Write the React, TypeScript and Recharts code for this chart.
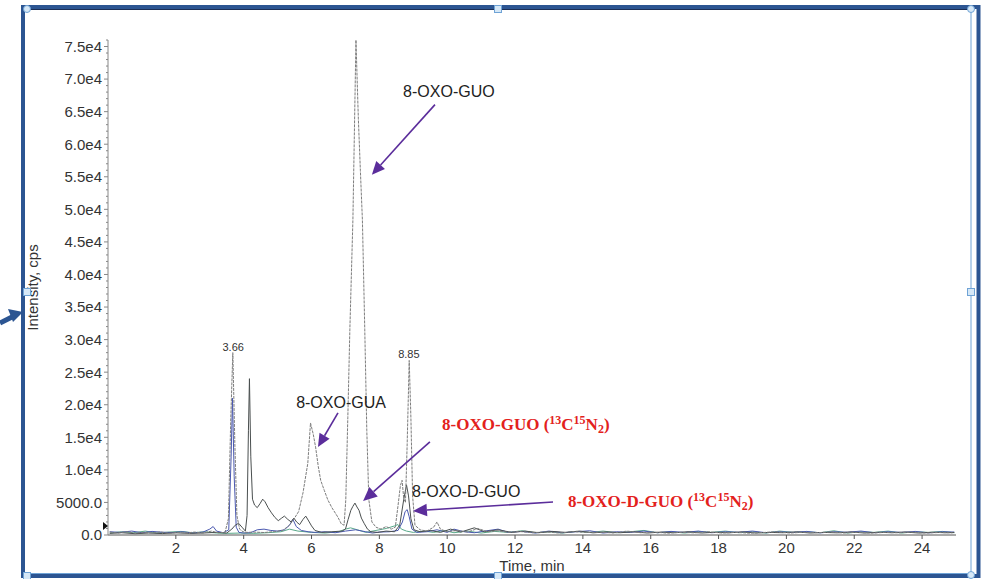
import React from "react";
import { LineChart, Line, XAxis, YAxis, ReferenceLine, ReferenceDot } from "recharts";

// chromatogram traces, [time (min), intensity (cps)]
const grayTrace: [number, number][] = [
  [0.05, 450], [0.3, 300], [0.55, 520], [0.8, 280], [1.05, 410], [1.3, 330], [1.55, 480], [1.8, 260],
  [2.05, 390], [2.3, 310], [2.55, 450], [2.8, 300], [3.05, 600], [3.25, 350], [3.45, 400], [3.55, 2500],
  [3.62, 18000], [3.68, 28000], [3.74, 14000], [3.8, 3000], [3.88, 900], [3.98, 500], [4.1, 400], [4.3, 450],
  [4.6, 380], [4.9, 520], [5.15, 700], [5.35, 1500], [5.5, 2600], [5.62, 3600], [5.75, 6500], [5.89, 11000],
  [5.97, 17200], [6.05, 15500], [6.12, 13500], [6.2, 10500], [6.27, 8400], [6.38, 6800], [6.48, 5400],
  [6.6, 4200], [6.77, 2800], [6.88, 1700], [6.96, 1500], [7.01, 5400], [7.07, 18000], [7.13, 31500],
  [7.22, 48400], [7.31, 76000], [7.38, 64000], [7.44, 56000], [7.5, 48400], [7.57, 31500], [7.63, 16000],
  [7.69, 5400], [7.78, 2000], [7.9, 1200], [8.05, 900], [8.2, 1300], [8.35, 900], [8.47, 1200], [8.55, 4500],
  [8.62, 7600], [8.67, 8400], [8.72, 5500], [8.77, 5000], [8.82, 14000], [8.88, 26800], [8.93, 18000],
  [8.98, 6000], [9.05, 1500], [9.2, 800], [9.4, 600], [9.6, 1200], [9.7, 2000], [9.8, 900], [10.0, 500],
  [10.3, 700], [10.6, 450], [10.9, 1000], [11.2, 500], [11.5, 650], [11.8, 400], [12.1, 550], [12.5, 350],
  [12.9, 480], [13.3, 300], [13.7, 520], [14.1, 380], [14.5, 450], [14.9, 300], [15.3, 600], [15.7, 350],
  [16.1, 450], [16.5, 280], [16.9, 400], [17.3, 330], [17.7, 500], [18.1, 300], [18.5, 420], [18.9, 280],
  [19.3, 380], [19.7, 500], [20.1, 300], [20.5, 420], [20.9, 350], [21.3, 480], [21.7, 300], [22.1, 430],
  [22.5, 280], [22.9, 400], [23.3, 330], [23.7, 450], [24.1, 300], [24.5, 380], [24.9, 320],
];

const darkTrace: [number, number][] = [
  [0.05, 250], [0.4, 350], [0.8, 200], [1.2, 300], [1.6, 220], [2.0, 330], [2.4, 250], [2.8, 300],
  [3.2, 400], [3.5, 300], [3.65, 900], [3.75, 1500], [3.85, 1800], [3.95, 1200], [4.05, 600], [4.1, 3000],
  [4.14, 16000], [4.17, 24000], [4.21, 12000], [4.26, 5500], [4.32, 4600], [4.4, 4200], [4.48, 4800],
  [4.56, 5500], [4.63, 5100], [4.72, 4200], [4.82, 3400], [4.92, 2700], [5.02, 2200], [5.12, 2600],
  [5.2, 2900], [5.3, 2400], [5.4, 2000], [5.48, 2600], [5.56, 2000], [5.65, 1600], [5.75, 2400],
  [5.83, 2900], [5.9, 2300], [6.0, 1400], [6.1, 700], [6.3, 400], [6.6, 500], [6.9, 600], [7.0, 900],
  [7.08, 2400], [7.16, 3800], [7.22, 4400], [7.28, 4900], [7.34, 4300], [7.4, 3800], [7.47, 2600],
  [7.55, 1800], [7.65, 900], [7.75, 500], [7.95, 400], [8.2, 600], [8.45, 500], [8.6, 1500], [8.72, 5500],
  [8.8, 7700], [8.86, 6000], [8.93, 2500], [9.02, 800], [9.2, 500], [9.5, 700], [9.8, 400], [10.1, 900],
  [10.4, 450], [10.8, 1100], [11.1, 500], [11.5, 800], [11.9, 400], [12.3, 600], [12.7, 350], [13.1, 550],
  [13.5, 400], [13.9, 600], [14.3, 330], [14.7, 480], [15.1, 350], [15.5, 500], [15.9, 300], [16.3, 450],
  [16.7, 350], [17.1, 500], [17.5, 300], [17.9, 420], [18.3, 330], [18.7, 480], [19.1, 300], [19.5, 400],
  [19.9, 350], [20.3, 480], [20.7, 300], [21.1, 400], [21.5, 330], [21.9, 470], [22.3, 300], [22.7, 420],
  [23.1, 350], [23.5, 460], [23.9, 300], [24.3, 420], [24.7, 350], [24.95, 400],
];

const blueTrace: [number, number][] = [
  [0.05, 500], [0.35, 400], [0.7, 600], [1.0, 350], [1.3, 550], [1.6, 420], [1.9, 380], [2.2, 500],
  [2.5, 300], [2.8, 450], [3.0, 900], [3.1, 1300], [3.2, 600], [3.4, 350], [3.56, 800], [3.63, 12000],
  [3.67, 21000], [3.72, 9000], [3.78, 1200], [3.86, 400], [4.0, 300], [4.2, 350], [4.4, 800], [4.6, 900],
  [4.8, 700], [5.0, 600], [5.2, 800], [5.35, 1500], [5.45, 2400], [5.55, 1300], [5.7, 700], [5.9, 500],
  [6.1, 400], [6.4, 500], [6.7, 350], [7.0, 600], [7.3, 800], [7.6, 500], [7.8, 300], [8.0, 450],
  [8.3, 500], [8.55, 700], [8.68, 2000], [8.76, 3600], [8.82, 3900], [8.88, 2800], [8.96, 900], [9.1, 400],
  [9.4, 500], [9.7, 800], [10.0, 400], [10.2, 900], [10.5, 500], [10.8, 350], [11.1, 600], [11.5, 900],
  [11.8, 400], [12.2, 550], [12.6, 300], [13.0, 600], [13.4, 350], [13.8, 500], [14.2, 650], [14.6, 300],
  [15.0, 500], [15.4, 400], [15.8, 600], [16.2, 350], [16.6, 550], [17.0, 400], [17.4, 600], [17.8, 350],
  [18.2, 500], [18.6, 420], [19.0, 600], [19.4, 350], [19.8, 500], [20.2, 400], [20.6, 550], [21.0, 330],
  [21.4, 500], [21.8, 420], [22.2, 600], [22.6, 350], [23.0, 500], [23.4, 400], [23.8, 550], [24.2, 330],
  [24.6, 500], [24.95, 450],
];

const greenTrace: [number, number][] = [
  [0.05, 300], [0.4, 500], [0.75, 350], [1.1, 600], [1.45, 300], [1.8, 450], [2.15, 550], [2.5, 350],
  [2.85, 500], [3.2, 300], [3.5, 250], [3.9, 300], [4.3, 250], [4.7, 350], [5.1, 500], [5.35, 900],
  [5.6, 600], [6.0, 400], [6.4, 300], [6.8, 500], [7.0, 900], [7.15, 1100], [7.35, 800], [7.6, 400],
  [7.9, 700], [8.2, 1000], [8.45, 1400], [8.55, 1600], [8.65, 900], [8.8, 600], [9.0, 400], [9.3, 600],
  [9.6, 400], [9.9, 700], [10.2, 350], [10.6, 600], [11.0, 300], [11.4, 550], [11.8, 400], [12.2, 650],
  [12.6, 350], [13.0, 500], [13.4, 300], [13.8, 550], [14.2, 400], [14.6, 600], [15.0, 350], [15.4, 500],
  [15.8, 700], [16.2, 350], [16.6, 500], [17.0, 300], [17.4, 550], [17.8, 400], [18.2, 600], [18.6, 350],
  [19.0, 500], [19.4, 300], [19.8, 600], [20.2, 400], [20.6, 500], [21.0, 350], [21.4, 650], [21.8, 300],
  [22.2, 500], [22.6, 400], [23.0, 600], [23.4, 300], [23.8, 500], [24.2, 400], [24.6, 550], [24.95, 350],
];

const xTicks = [2, 4, 6, 8, 10, 12, 14, 16, 18, 20, 22, 24];
const yMajorTicks = [0, 5000, 10000, 15000, 20000, 25000, 30000, 35000, 40000, 45000, 50000, 55000, 60000, 65000, 70000, 75000];

const SANS = "'Liberation Sans', Arial, sans-serif";
const SERIF = "'Liberation Serif', 'Times New Roman', serif";
const ARROW = "#5b2d9b";
const RED = "#e3211c";

const toPoints = (arr: [number, number][]) => arr.map(([t, v]) => ({ t, v }));

// minor ticks every 1000 cps, labels only on the 5000 marks
const yTicks: number[] = [];
for (let v = 0; v <= 76000; v += 1000) yTicks.push(v);

function fmtY(v: number) {
  if (v >= 10000) return (v / 10000).toFixed(1) + "e4";
  return v.toFixed(1);
}

function YTick(props: any) {
  const { x, y, payload } = props;
  const v = payload.value as number;
  const major = yMajorTicks.includes(v);
  return (
    <g>
      <line x1={x - (major ? 4 : 2)} x2={x} y1={y} y2={y} stroke="#888" strokeWidth={1} />
      {major && (
        <text x={x - 6} y={y} dy="0.36em" textAnchor="end" fontSize={15} fill="#333" fontFamily={SANS}>
          {fmtY(v)}
        </text>
      )}
    </g>
  );
}

function YLabel(props: any) {
  const vb = props.viewBox || { x: 0, y: 40, width: 108, height: 495 };
  const cx = vb.x + 33;
  const cy = vb.y + vb.height / 2;
  return (
    <text x={cx} y={cy} dy="0.35em" transform={`rotate(-90 ${cx} ${cy})`} textAnchor="middle"
      fontSize={15} fill="#333" fontFamily={SANS}>
      Intensity, cps
    </text>
  );
}

// line with a filled arrow head at the second point
function arrowShape(head: number) {
  return (p: any) => {
    const { x1, y1, x2, y2 } = p;
    const a = Math.atan2(y2 - y1, x2 - x1);
    const bx = x2 - head * Math.cos(a);
    const by = y2 - head * Math.sin(a);
    const w = head * 0.45;
    const pts = [
      [x2, y2],
      [bx + w * Math.sin(a), by - w * Math.cos(a)],
      [bx - w * Math.sin(a), by + w * Math.cos(a)],
    ].map((q) => q.join(",")).join(" ");
    return (
      <g>
        <line x1={x1} y1={y1} x2={bx} y2={by} stroke={ARROW} strokeWidth={1.6} />
        <polygon points={pts} fill={ARROW} />
      </g>
    );
  };
}

function textShape(content: React.ReactNode, opts: { anchor?: string; size: number; color?: string; bold?: boolean; serif?: boolean }) {
  return (p: any) => (
    <text x={p.cx} y={p.cy} dy="0.35em" textAnchor={opts.anchor || "middle"} fontSize={opts.size}
      fill={opts.color || "#222"} fontWeight={opts.bold ? 700 : 400} fontFamily={opts.serif ? SERIF : SANS}>
      {content}
    </text>
  );
}

const isoLabel = (name: string) => (
  <>
    {name} (
    <tspan fontSize={12} dy="-6">13</tspan>
    <tspan dy="6">C</tspan>
    <tspan fontSize={12} dy="-6">15</tspan>
    <tspan dy="6">N</tspan>
    <tspan fontSize={12} dy="3">2</tspan>
    <tspan dy="-3">)</tspan>
  </>
);

export default function App() {
  return (
    <div style={{ position: "absolute", left: 0, top: 0, width: 987, height: 579, background: "#fff" }}>
      <LineChart width={987} height={579} margin={{ top: 40, right: 31, bottom: 0, left: 0 }}>
        <XAxis type="number" dataKey="t" domain={[0, 25]} ticks={xTicks} allowDataOverflow
          height={44} stroke="#555" tickSize={4} tickMargin={3}
          tick={{ fontSize: 15, fill: "#333", fontFamily: SANS }}
          label={{ value: "Time, min", position: "insideBottom", offset: 8, fontSize: 15, fill: "#333", fontFamily: SANS }} />
        <YAxis type="number" domain={[0, 76000]} ticks={yTicks} interval={0} width={108}
          stroke="#888" tickLine={false} tickSize={0} tickMargin={0} tick={<YTick />}
          label={<YLabel />} />

        <Line data={toPoints(greenTrace)} dataKey="v" type="linear" stroke="#5aa98a" strokeWidth={1} dot={false} isAnimationActive={false} />
        <Line data={toPoints(blueTrace)} dataKey="v" type="linear" stroke="#4a58b0" strokeWidth={1} dot={false} isAnimationActive={false} />
        <Line data={toPoints(darkTrace)} dataKey="v" type="linear" stroke="#4a4f4f" strokeWidth={1} dot={false} isAnimationActive={false} />
        <Line data={toPoints(grayTrace)} dataKey="v" type="linear" stroke="#7d7d7d" strokeWidth={1} strokeDasharray="3 1" dot={false} isAnimationActive={false} />

        {/* peak labels */}
        <ReferenceDot x={3.69} y={28890} r={0} ifOverflow="visible" shape={textShape("3.66", { size: 11, color: "#333" })} />
        <ReferenceDot x={8.87} y={27820} r={0} ifOverflow="visible" shape={textShape("8.85", { size: 11, color: "#333" })} />

        {/* annotations */}
        <ReferenceDot x={10.05} y={68080} r={0} ifOverflow="visible" shape={textShape("8-OXO-GUO", { size: 16 })} />
        <ReferenceLine segment={[{ x: 9.64, y: 66080 }, { x: 7.78, y: 55320 }]} ifOverflow="visible" shape={arrowShape(13)} />

        <ReferenceDot x={6.87} y={20290} r={0} ifOverflow="visible" shape={textShape("8-OXO-GUA", { size: 16 })} />
        <ReferenceLine segment={[{ x: 6.78, y: 18750 }, { x: 6.19, y: 13520 }]} ifOverflow="visible" shape={arrowShape(13)} />

        <ReferenceDot x={9.85} y={17060} r={0} ifOverflow="visible"
          shape={textShape(isoLabel("8-OXO-GUO"), { anchor: "start", size: 17, color: RED, bold: true, serif: true })} />
        <ReferenceLine segment={[{ x: 9.49, y: 14290 }, { x: 7.52, y: 5225 }]} ifOverflow="visible" shape={arrowShape(14)} />

        <ReferenceDot x={8.96} y={6760} r={0} ifOverflow="visible" shape={textShape("8-OXO-D-GUO", { anchor: "start", size: 16 })} />

        <ReferenceDot x={13.56} y={5225} r={0} ifOverflow="visible"
          shape={textShape(isoLabel("8-OXO-D-GUO"), { anchor: "start", size: 17, color: RED, bold: true, serif: true })} />
        <ReferenceLine segment={[{ x: 13.12, y: 5070 }, { x: 8.99, y: 3690 }]} ifOverflow="visible" shape={arrowShape(14)} />
      </LineChart>

      {/* slide frame, selection handles and pointer arrow */}
      <svg width={987} height={579} style={{ position: "absolute", left: 0, top: 0, pointerEvents: "none" }}>
        <rect x={23} y={7} width={955.5} height={569} fill="none" stroke="#2c5592" strokeWidth={4} />
        <line x1={25} y1={9.5} x2={971} y2={9.5} stroke="#1d2f55" strokeWidth={1} />
        <line x1={971} y1={9} x2={971} y2={575} stroke="#6fa3d6" strokeWidth={1} />
        <line x1={25} y1={573.5} x2={971} y2={573.5} stroke="#6fa3d6" strokeWidth={1} />
        <polygon points="103,522 108,526 103,530" fill="#111" />
        {[[27, 292], [971, 292], [498, 9], [498, 576], [27, 576]].map(([x, y], i) => (
          <rect key={i} x={x - 3.5} y={y - 3.5} width={7} height={7} fill="#d6e8f7" stroke="#6fa3d6" strokeWidth={1} />
        ))}
        {[[971, 9], [971, 575], [27, 9]].map(([x, y], i) => (
          <circle key={i} cx={x} cy={y} r={3.5} fill="#d6e8f7" stroke="#6fa3d6" strokeWidth={1} />
        ))}
        <line x1={0} y1={323} x2={12} y2={317} stroke="#2c5592" strokeWidth={5} />
        <polygon points="23,312 8,309 13,322" fill="#2c5592" />
      </svg>
    </div>
  );
}
